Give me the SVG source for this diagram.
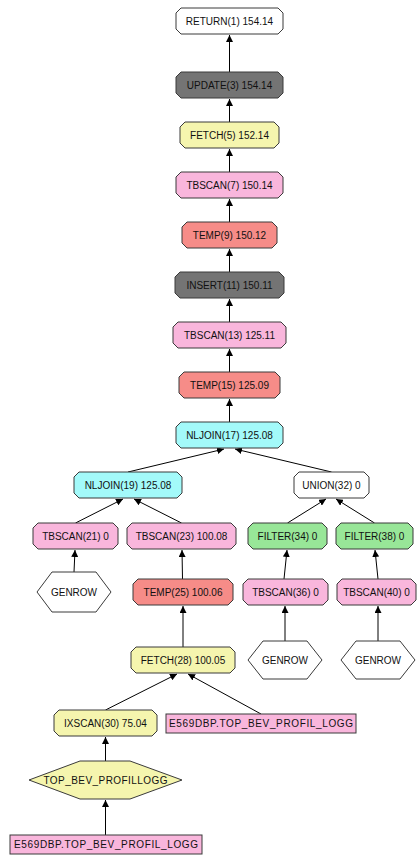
<svg xmlns="http://www.w3.org/2000/svg" width="417" height="855" viewBox="0 0 417 855">
<style>
.n polygon,.n rect{stroke:#3a3a3a;stroke-width:1}
.w{fill:#ffffff}.g{fill:#747474}.y{fill:#f5f5ae}.p{fill:#f9b6dc}.s{fill:#f68c88}.c{fill:#a3fafa}.gr{fill:#98e698}
text{font-family:"Liberation Sans",Arial,sans-serif;font-size:10px;fill:#111;text-anchor:middle}
#edges line{stroke:#000;stroke-width:1;marker-end:url(#arr)}
</style>
<defs>
<marker id="arr" viewBox="0 0 7 7" refX="7" refY="3.5" markerWidth="7" markerHeight="7" markerUnits="userSpaceOnUse" orient="auto"><path d="M0,0 L7,3.5 L0,7 Z" fill="#000"/></marker>
</defs>
<rect width="417" height="855" fill="#ffffff"/>
<g id="edges">
<line x1="229.5" y1="72" x2="229.5" y2="35"/>
<line x1="229.5" y1="122" x2="229.5" y2="99"/>
<line x1="229.5" y1="172" x2="229.5" y2="149"/>
<line x1="229.5" y1="222" x2="229.5" y2="199"/>
<line x1="229.5" y1="272" x2="229.5" y2="249"/>
<line x1="229.5" y1="322" x2="229.5" y2="299"/>
<line x1="229.5" y1="372" x2="229.5" y2="349"/>
<line x1="229.5" y1="422" x2="229.5" y2="399"/>
<line x1="128" y1="472" x2="224" y2="449"/>
<line x1="331.5" y1="472" x2="235" y2="449"/>
<line x1="75.5" y1="523" x2="123" y2="499"/>
<line x1="181.5" y1="523" x2="134" y2="499"/>
<line x1="287.5" y1="523" x2="326" y2="499"/>
<line x1="374.5" y1="523" x2="336" y2="499"/>
<line x1="74" y1="572" x2="75" y2="550"/>
<line x1="182.5" y1="579" x2="182" y2="550"/>
<line x1="284" y1="579" x2="287" y2="550"/>
<line x1="378" y1="579" x2="375" y2="550"/>
<line x1="285" y1="641" x2="285" y2="606"/>
<line x1="378" y1="641" x2="378" y2="606"/>
<line x1="183" y1="647" x2="183" y2="606"/>
<line x1="105.5" y1="710" x2="177" y2="674"/>
<line x1="261" y1="714" x2="188" y2="674"/>
<line x1="105.5" y1="761" x2="105.5" y2="737"/>
<line x1="105.5" y1="835" x2="105.5" y2="800"/>
</g>
<g id="return1" class="n"><polygon class="w" points="181,8 278,8 283,13 283,29 278,34 181,34 176,29 176,13"/><text x="229.5" y="24.5">RETURN(1) 154.14</text></g>
<g id="update3" class="n"><polygon class="g" points="181,72 278,72 283,77 283,93 278,98 181,98 176,93 176,77"/><text x="229.5" y="88.5">UPDATE(3) 154.14</text></g>
<g id="fetch5" class="n"><polygon class="y" points="185,122 274,122 279,127 279,143 274,148 185,148 180,143 180,127"/><text x="229.5" y="138.5">FETCH(5) 152.14</text></g>
<g id="tbscan7" class="n"><polygon class="p" points="181,172 278,172 283,177 283,193 278,198 181,198 176,193 176,177"/><text x="229.5" y="188.5">TBSCAN(7) 150.14</text></g>
<g id="temp9" class="n"><polygon class="s" points="187,222 272,222 277,227 277,243 272,248 187,248 182,243 182,227"/><text x="229.5" y="238.5">TEMP(9) 150.12</text></g>
<g id="insert11" class="n"><polygon class="g" points="180,272 279,272 284,277 284,293 279,298 180,298 175,293 175,277"/><text x="229.5" y="288.5">INSERT(11) 150.11</text></g>
<g id="tbscan13" class="n"><polygon class="p" points="178,322 281,322 286,327 286,343 281,348 178,348 173,343 173,327"/><text x="229.5" y="338.5">TBSCAN(13) 125.11</text></g>
<g id="temp15" class="n"><polygon class="s" points="184,372 275,372 280,377 280,393 275,398 184,398 179,393 179,377"/><text x="229.5" y="388.5">TEMP(15) 125.09</text></g>
<g id="nljoin17" class="n"><polygon class="c" points="181,422 278,422 283,427 283,443 278,448 181,448 176,443 176,427"/><text x="229.5" y="438.5">NLJOIN(17) 125.08</text></g>
<g id="nljoin19" class="n"><polygon class="c" points="79,472 177,472 182,477 182,493 177,498 79,498 74,493 74,477"/><text x="128" y="488.5">NLJOIN(19) 125.08</text></g>
<g id="union32" class="n"><polygon class="w" points="299,472 364,472 369,477 369,493 364,498 299,498 294,493 294,477"/><text x="331.5" y="488.5">UNION(32) 0</text></g>
<g id="tbscan21" class="n"><polygon class="p" points="38,523 113,523 118,528 118,544 113,549 38,549 33,544 33,528"/><text x="75.5" y="539.5">TBSCAN(21) 0</text></g>
<g id="tbscan23" class="n"><polygon class="p" points="132,523 231,523 236,528 236,544 231,549 132,549 127,544 127,528"/><text x="181.5" y="539.5">TBSCAN(23) 100.08</text></g>
<g id="filter34" class="n"><polygon class="gr" points="253,523 322,523 327,528 327,544 322,549 253,549 248,544 248,528"/><text x="287.5" y="539.5">FILTER(34) 0</text></g>
<g id="filter38" class="n"><polygon class="gr" points="341,523 408,523 413,528 413,544 408,549 341,549 336,544 336,528"/><text x="374.5" y="539.5">FILTER(38) 0</text></g>
<g id="genrow1" class="n"><polygon class="w" points="37,592 52,572 96,572 111,592 96,612 52,612"/><text x="74" y="595.5">GENROW</text></g>
<g id="temp25" class="n"><polygon class="s" points="138,579 228,579 233,584 233,600 228,605 138,605 133,600 133,584"/><text x="183" y="595.5">TEMP(25) 100.06</text></g>
<g id="tbscan36" class="n"><polygon class="p" points="248,579 323,579 328,584 328,600 323,605 248,605 243,600 243,584"/><text x="285.5" y="595.5">TBSCAN(36) 0</text></g>
<g id="tbscan40" class="n"><polygon class="p" points="342,579 411,579 416,584 416,600 411,605 342,605 337,600 337,584"/><text x="376.5" y="595.5">TBSCAN(40) 0</text></g>
<g id="genrow2" class="n"><polygon class="w" points="248,660 263,641 307,641 322,660 307,679 263,679"/><text x="285" y="663.5">GENROW</text></g>
<g id="genrow3" class="n"><polygon class="w" points="341,660 356,641 400,641 415,660 400,679 356,679"/><text x="378" y="663.5">GENROW</text></g>
<g id="fetch28" class="n"><polygon class="y" points="136,647 230,647 235,652 235,668 230,673 136,673 131,668 131,652"/><text x="183" y="663.5">FETCH(28) 100.05</text></g>
<g id="ixscan30" class="n"><polygon class="y" points="59,710 152,710 157,715 157,731 152,736 59,736 54,731 54,715"/><text x="105.5" y="726.5">IXSCAN(30) 75.04</text></g>
<g id="table1" class="n"><rect class="p" x="166" y="714" width="190" height="19"/><text x="261" y="727" textLength="184" lengthAdjust="spacing">E569DBP.TOP_BEV_PROFIL_LOGG</text></g>
<g id="index1" class="n"><polygon class="y" points="29,780 80,761 130,761 182,780 130,799 80,799"/><text x="105.5" y="783.5" textLength="124" lengthAdjust="spacing">TOP_BEV_PROFILLOGG</text></g>
<g id="table2" class="n"><rect class="p" x="10" y="835" width="192" height="19"/><text x="106" y="848" textLength="184" lengthAdjust="spacing">E569DBP.TOP_BEV_PROFIL_LOGG</text></g>
</svg>
